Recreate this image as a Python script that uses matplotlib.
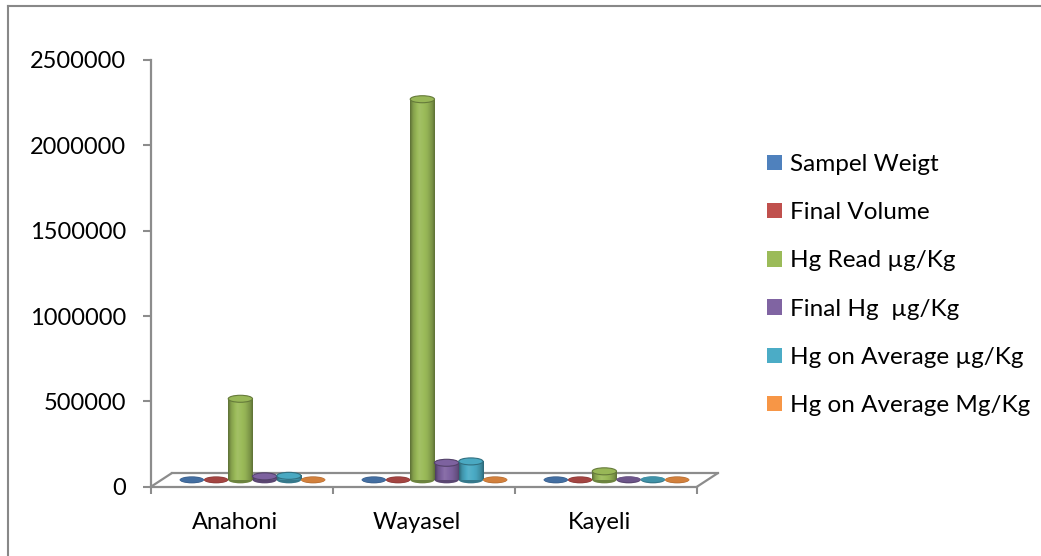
import matplotlib
matplotlib.use("Agg")
import matplotlib.pyplot as plt
import numpy as np
from matplotlib.colors import to_rgb
from matplotlib.lines import Line2D
from matplotlib.patches import ConnectionPatch, Ellipse, Patch
from matplotlib.transforms import ScaledTranslation, offset_copy

plt.rcParams["font.family"] = ["Lato", "DejaVu Sans"]

locations = ["Anahoni", "Wayasel", "Kayeli"]
series_names = [
    "Sampel Weigt",
    "Final Volume",
    "Hg Read \u00b5g/Kg",
    "Final Hg  \u00b5g/Kg",
    "Hg on Average \u00b5g/Kg",
    "Hg on Average Mg/Kg",
]
sample_weight = [0.5, 0.5, 0.5]
final_volume = [50, 50, 50]
hg_read = [475000, 2230000, 50000]
final_hg = [20500, 100000, 3000]
hg_average_ug = [23500, 108000, 3200]
hg_average_mg = [23.5, 108, 3.2]
series_values = [sample_weight, final_volume, hg_read, final_hg, hg_average_ug, hg_average_mg]
y_ticks = [0, 500000, 1000000, 1500000, 2000000, 2500000]

colors = ["#4F81BD", "#C0504D", "#9BBB59", "#8064A2", "#4BACC6", "#F79646"]
axis_gray = "#8C8C8C"

W, H = 1041, 556
fig = plt.figure(figsize=(W / 100, H / 100), dpi=100)
ax = fig.add_axes([151 / W, (H - 486.7) / H, (697 - 151) / W, (486.7 - 60) / H])

# depth offsets of the floor (in pixels): bars stand half way back
depth_x, depth_y = 21, 13.7
bar_tf = offset_copy(ax.transData, fig=fig, x=depth_x / 2, y=depth_y / 2, units="dots")
back_tf = offset_copy(ax.transData, fig=fig, x=depth_x, y=depth_y, units="dots")

n_series = len(series_values)
bar_w = 1 / (n_series + 1.5)
px_per_unit = (486.7 - 60) / y_ticks[-1]
ell_h = 7 / px_per_unit


def shade(color, factor):
    rgb = np.array(to_rgb(color))
    if factor >= 1:
        return rgb + (1 - rgb) * (factor - 1)
    return rgb * factor


def body_gradient(color, n=64):
    t = np.linspace(0, 1, n)
    knots = [0, 0.12, 0.38, 0.7, 0.9, 1.0]
    factors = [0.6, 0.85, 1.08, 0.95, 0.78, 0.6]
    f = np.interp(t, knots, factors)
    return np.array([[shade(color, v) for v in f]])


def draw_cylinder(xc, value, color, z):
    x0, x1 = xc - bar_w / 2, xc + bar_w / 2
    ax.add_patch(Ellipse((xc, 0), bar_w, ell_h, facecolor=shade(color, 0.7),
                         edgecolor="none", transform=bar_tf, zorder=z, clip_on=False))
    if value * px_per_unit > 1:
        ax.imshow(body_gradient(color), extent=(x0, x1, 0, value), aspect="auto",
                  interpolation="bilinear", transform=bar_tf, zorder=z + 0.1, clip_on=False)
        ax.add_patch(Ellipse((xc, value), bar_w, ell_h, facecolor=shade(color, 0.98),
                             edgecolor=shade(color, 0.65), linewidth=0.8,
                             transform=bar_tf, zorder=z + 0.2, clip_on=False))
    else:
        ax.add_patch(Ellipse((xc, value), bar_w, ell_h * 0.8, facecolor=shade(color, 0.85),
                             edgecolor="none", transform=bar_tf, zorder=z + 0.2, clip_on=False))


z = 3
for cat in range(len(locations)):
    for s, values in enumerate(series_values):
        xc = cat + (s - (n_series - 1) / 2) * bar_w
        draw_cylinder(xc, values[cat], colors[s], z)
        z += 1

ax.set_xlim(-0.5, len(locations) - 0.5)
ax.set_ylim(0, y_ticks[-1])

# floor outline
ax.plot([-0.5, len(locations) - 0.5], [0, 0], color=axis_gray, lw=1.6,
        transform=back_tf, clip_on=False, zorder=2)
for xe in (-0.5, len(locations) - 0.5):
    ax.add_artist(ConnectionPatch(xyA=(xe, 0), coordsA=ax.transData,
                                  xyB=(xe, 0), coordsB=back_tf,
                                  color=axis_gray, lw=1.6, zorder=2))

for side in ("top", "right"):
    ax.spines[side].set_visible(False)
for side in ("left", "bottom"):
    ax.spines[side].set_color(axis_gray)
    ax.spines[side].set_linewidth(1.6)
ax.patch.set_alpha(0)

ax.set_yticks(y_ticks)
ax.set_yticklabels([str(v) for v in y_ticks])
ax.set_xticks(range(len(locations)))
ax.set_xticklabels(locations)
ax.set_xticks(np.arange(-0.5, len(locations)), minor=True)
ax.tick_params(axis="y", direction="out", length=6, width=1.5, color=axis_gray,
               labelsize=17, pad=12, labelcolor="black")
ax.tick_params(axis="x", which="major", length=0, labelsize=17, pad=18, labelcolor="black")
ax.tick_params(axis="x", which="minor", direction="out", length=5, width=1.5, color=axis_gray)
for label in ax.get_xticklabels():
    label.set_transform(label.get_transform() + ScaledTranslation(-7 / 100, 0, fig.dpi_scale_trans))

handles = [Patch(facecolor=c, edgecolor="none") for c in colors]
fig.legend(handles, series_names, loc="upper left", bbox_to_anchor=(767 / W, 1 - 154 / H),
           frameon=False, fontsize=17.5, handlelength=0.6, handleheight=0.6,
           handletextpad=0.35, labelspacing=1.12, borderaxespad=0, borderpad=0)

# chart area border
fig.add_artist(Line2D([8 / W, 1], [1 - 6 / H, 1 - 6 / H], color="#888888", lw=1.5))
fig.add_artist(Line2D([8 / W, 8 / W], [0, 1 - 6 / H], color="#888888", lw=1.5))

fig.savefig("out.png", dpi=100)
